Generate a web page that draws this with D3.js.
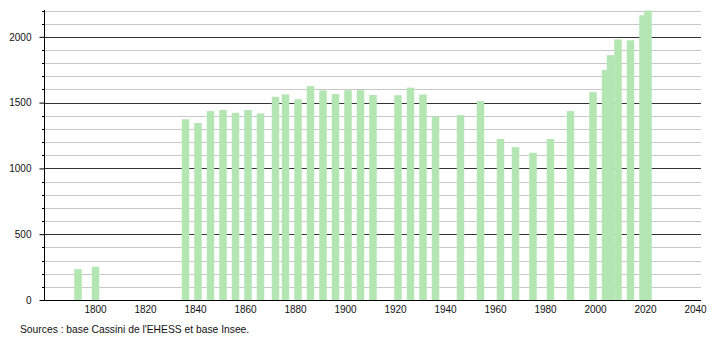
<!DOCTYPE html>
<html>
<head>
<meta charset="utf-8">
<script src="https://cdn.jsdelivr.net/npm/d3@7"></script>
<style>
  body { margin: 0; background: #fff; }
  svg { display: block; font-family: "Liberation Sans", Arial, sans-serif; }
</style>
</head>
<body>
<svg id="chart"></svg>
<script>
// Recensements (années) et population
const years = [1793, 1800, 1836, 1841, 1846, 1851, 1856, 1861, 1866, 1872, 1876, 1881, 1886,
  1891, 1896, 1901, 1906, 1911, 1921, 1926, 1931, 1936, 1946, 1954, 1962, 1968, 1975, 1982,
  1990, 1999, 2004, 2006, 2009, 2014, 2019, 2021];
const population = [235, 253, 1373, 1345, 1436, 1444, 1422, 1444, 1418, 1544, 1563, 1526, 1626,
  1593, 1565, 1594, 1595, 1558, 1556, 1614, 1562, 1395, 1405, 1511, 1224, 1162, 1119, 1223,
  1436, 1580, 1748, 1861, 1980, 1974, 2164, 2200];
const xTicks = [1800, 1820, 1840, 1860, 1880, 1900, 1920, 1940, 1960, 1980, 2000, 2020, 2040];
const yMajor = [0, 500, 1000, 1500, 2000];
const source = "Sources : base Cassini de l'EHESS et base Insee.";

const data = years.map((y, i) => ({ year: y, pop: population[i] }));

const width = 710, height = 340;
const mLeft = 44, mRight = 701, mTop = 10.5, mBottom = 300;

const svg = d3.select("#chart")
    .attr("width", width)
    .attr("height", height);

const x = d3.scaleLinear().domain([1780, 2042]).range([45, 700]);
const y = d3.scaleLinear().domain([0, 2200]).range([mBottom, mTop]);

const minor = d3.range(100, 2201, 100).filter(v => v % 500 !== 0);

// lignes de grille
svg.append("g").selectAll("line")
    .data(minor)
    .enter().append("line")
    .attr("x1", mLeft).attr("x2", mRight)
    .attr("y1", d => Math.round(y(d)) + 0.5).attr("y2", d => Math.round(y(d)) + 0.5)
    .attr("stroke", "#c8c8c8");

svg.append("g").selectAll("line")
    .data(yMajor.filter(v => v > 0))
    .enter().append("line")
    .attr("x1", mLeft).attr("x2", mRight)
    .attr("y1", d => Math.round(y(d)) + 0.5).attr("y2", d => Math.round(y(d)) + 0.5)
    .attr("stroke", "#333");

// barres
const barW = x(1783) - x(1780);
svg.append("g").selectAll("rect")
    .data(data)
    .enter().append("rect")
    .attr("x", d => x(d.year) - barW / 2 + 0.5)
    .attr("width", barW)
    .attr("y", d => y(d.pop))
    .attr("height", d => mBottom - y(d.pop))
    .attr("fill", "#b4e6b4");

// axe Y
const yAxis = svg.append("g")
    .attr("transform", `translate(${mLeft + 0.5},0)`)
    .call(d3.axisLeft(y).tickValues(yMajor).tickFormat(d3.format("d"))
        .tickSize(5).tickPadding(8).tickSizeOuter(0));
yAxis.select(".domain").attr("stroke", "#000").attr("d", `M0,${mTop - 0.5}V${mBottom}`);
yAxis.selectAll(".tick line").attr("stroke", "#000");
yAxis.selectAll("text").attr("font-size", "10px").attr("fill", "#111")
    .attr("font-family", "Liberation Sans, Arial, sans-serif");

svg.append("g").selectAll("line")
    .data(minor)
    .enter().append("line")
    .attr("x1", mLeft - 2).attr("x2", mLeft)
    .attr("y1", d => Math.round(y(d)) + 0.5).attr("y2", d => Math.round(y(d)) + 0.5)
    .attr("stroke", "#000");

// axe X
const xAxis = svg.append("g")
    .attr("transform", `translate(0,${mBottom + 0.5})`)
    .call(d3.axisBottom(x).tickValues(xTicks).tickFormat(d3.format("d"))
        .tickSize(0).tickPadding(5));
xAxis.select(".domain").attr("stroke", "#000").attr("d", `M${mLeft},0H${mRight}`);
xAxis.selectAll("text").attr("font-size", "10px").attr("fill", "#111")
    .attr("font-family", "Liberation Sans, Arial, sans-serif");

// source
svg.append("text")
    .attr("x", 20)
    .attr("y", 333)
    .attr("font-size", "10.3px")
    .attr("fill", "#111")
    .text(source);
</script>
</body>
</html>
